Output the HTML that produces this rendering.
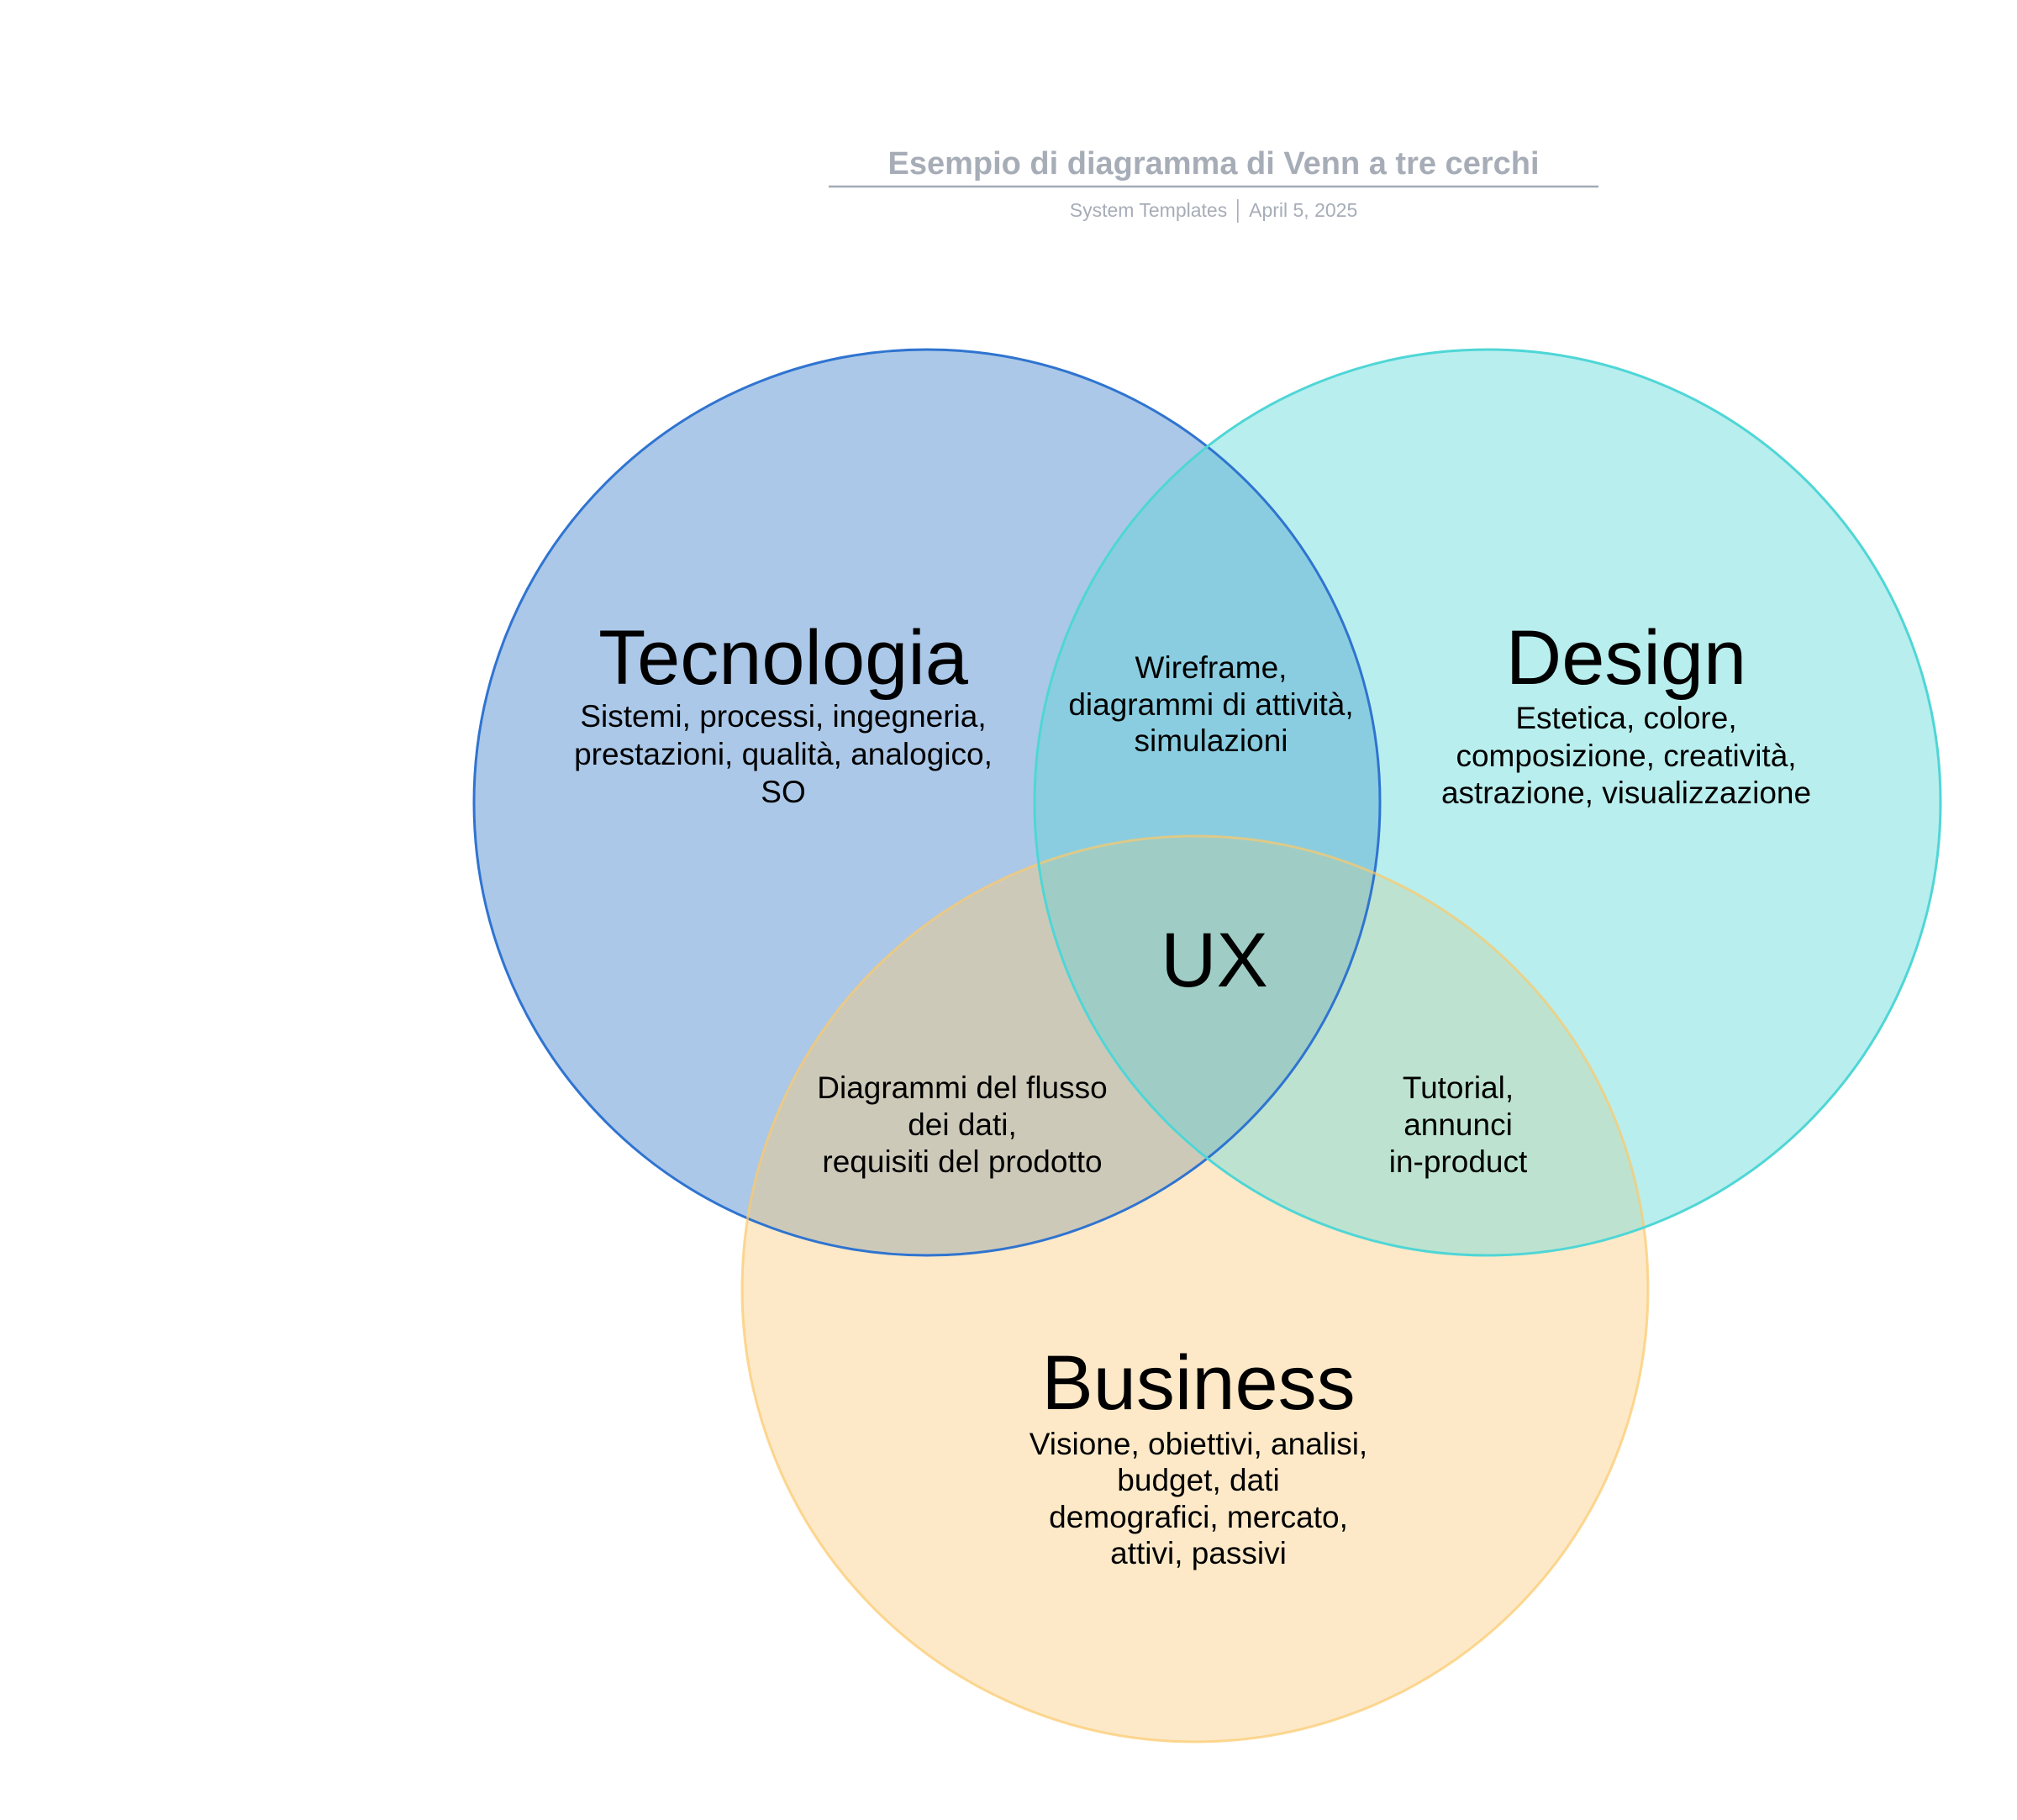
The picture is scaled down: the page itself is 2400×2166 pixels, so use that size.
<!DOCTYPE html>
<html><head><meta charset="utf-8"><style>
html,body{margin:0;padding:0;background:#fff;}
svg{display:block;}
text{font-family:"Liberation Sans",sans-serif;}
</style></head><body>
<svg width="2400" height="2166" viewBox="0 0 2400 2166" xmlns="http://www.w3.org/2000/svg">
<defs>
<clipPath id="cT"><circle cx="1103" cy="955" r="539"/></clipPath>
<clipPath id="cD"><circle cx="1770" cy="955" r="539"/></clipPath>
<clipPath id="cB"><circle cx="1422" cy="1534" r="539"/></clipPath>
</defs>
<rect width="2400" height="2166" fill="#fff"/>
<text x="1444" y="207" text-anchor="middle" font-size="38" font-weight="bold" fill="#a7adb7">Esempio di diagramma di Venn a tre cerchi</text>
<line x1="986" y1="222" x2="1902" y2="222" stroke="#a3aab5" stroke-width="2.5"/>
<text x="1444" y="258" text-anchor="middle" font-size="23" fill="#a7adb7">System Templates  │  April 5, 2025</text>

<circle cx="1103" cy="955" r="539" fill="#abc8e8"/>
<circle cx="1770" cy="955" r="539" fill="#b9eeee"/>
<circle cx="1422" cy="1534" r="539" fill="#fde9c8"/>
<g clip-path="url(#cT)"><circle cx="1770" cy="955" r="539" fill="#8acde0"/><circle cx="1422" cy="1534" r="539" fill="#cdc9b9"/></g>
<g clip-path="url(#cD)"><circle cx="1422" cy="1534" r="539" fill="#bde3d0"/></g>
<g clip-path="url(#cT)"><g clip-path="url(#cD)"><circle cx="1422" cy="1534" r="539" fill="#9fcdc6"/></g></g>

<circle cx="1103" cy="955" r="539" fill="none" stroke="#2f74d0" stroke-width="3"/>
<circle cx="1422" cy="1534" r="539" fill="none" stroke="#fbc96a" stroke-width="3" stroke-opacity="0.7"/>
<circle cx="1770" cy="955" r="539" fill="none" stroke="#4fd6d6" stroke-width="3"/>

<g fill="#000" text-anchor="middle">
<text x="932" y="814" font-size="92">Tecnologia</text>
<g font-size="37"><text x="932" y="865">Sistemi, processi, ingegneria,</text><text x="932" y="910">prestazioni, qualità, analogico,</text><text x="932" y="955">SO</text></g>
<text x="1935" y="814" font-size="92">Design</text>
<g font-size="37"><text x="1935" y="867">Estetica, colore,</text><text x="1935" y="912">composizione, creatività,</text><text x="1935" y="956">astrazione, visualizzazione</text></g>
<g font-size="37"><text x="1441" y="807">Wireframe,</text><text x="1441" y="851">diagrammi di attività,</text><text x="1441" y="894">simulazioni</text></g>
<text x="1445" y="1174" font-size="92">UX</text>
<g font-size="37"><text x="1145" y="1307">Diagrammi del flusso</text><text x="1145" y="1351">dei dati,</text><text x="1145" y="1395">requisiti del prodotto</text></g>
<g font-size="37"><text x="1735" y="1307">Tutorial,</text><text x="1735" y="1351">annunci</text><text x="1735" y="1395">in-product</text></g>
<text x="1426" y="1677" font-size="92">Business</text>
<g font-size="37"><text x="1426" y="1731">Visione, obiettivi, analisi,</text><text x="1426" y="1774">budget, dati</text><text x="1426" y="1818">demografici, mercato,</text><text x="1426" y="1861">attivi, passivi</text></g>
</g>
</svg>
</body></html>
